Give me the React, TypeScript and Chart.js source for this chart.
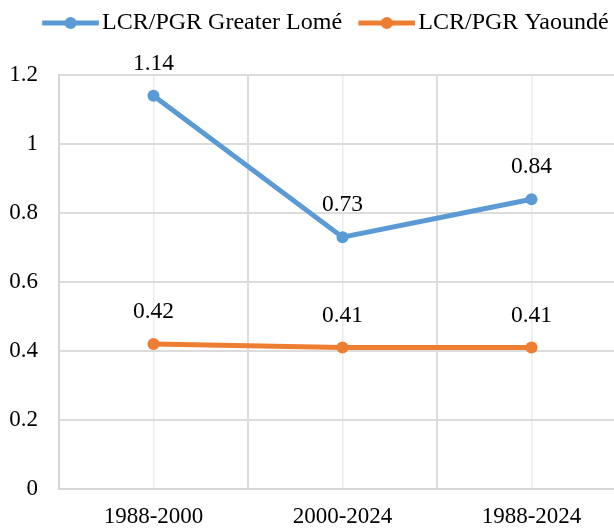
import React, { useEffect, useRef } from 'react';
import { Chart, registerables } from 'chart.js';

Chart.register(...registerables);

const categories = ['1988-2000', '2000-2024', '1988-2024'];
const lomeValues = [1.14, 0.73, 0.84];
const yaoundeValues = [0.42, 0.41, 0.41];
const seriesNames = ['LCR/PGR Greater Lomé', 'LCR/PGR Yaoundé'];
const yTickValues = [0, 0.2, 0.4, 0.6, 0.8, 1, 1.2];

const BLUE = '#5B9BD5';
const ORANGE = '#ED7D31';
const FONT = '"Liberation Serif", "Times New Roman", serif';

function makeLegendIcon(color: string) {
  const c = document.createElement('canvas');
  c.width = 76;
  c.height = 14;
  const ctx = c.getContext('2d')!;
  ctx.strokeStyle = color;
  ctx.lineWidth = 5;
  ctx.beginPath();
  ctx.moveTo(18.85, 7);
  ctx.lineTo(75.85, 7);
  ctx.stroke();
  ctx.fillStyle = color;
  ctx.beginPath();
  ctx.arc(47.35, 7, 6, 0, Math.PI * 2);
  ctx.fill();
  return c;
}

const valueLabels = {
  id: 'valueLabels',
  afterDatasetsDraw(chart: any) {
    const ctx = chart.ctx;
    ctx.save();
    ctx.font = `23.5px ${FONT}`;
    ctx.fillStyle = '#000';
    ctx.textAlign = 'center';
    ctx.textBaseline = 'middle';
    chart.data.datasets.forEach((ds: any, i: number) => {
      const meta = chart.getDatasetMeta(i);
      meta.data.forEach((pt: any, j: number) => {
        ctx.fillText(Number(ds.data[j]).toFixed(2), pt.x, pt.y - 32);
      });
    });
    ctx.restore();
  },
};

const legendSpacing = {
  id: 'legendSpacing',
  beforeInit(chart: any) {
    const legend = chart.legend;
    if (!legend) return;
    const fit = legend.fit;
    legend.fit = function () {
      fit.call(this);
      this.height = 70.6;
    };
  },
};

export default function App() {
  const ref = useRef<HTMLCanvasElement | null>(null);

  useEffect(() => {
    if (!ref.current) return;
    const icons = [makeLegendIcon(BLUE), makeLegendIcon(ORANGE)];
    const chart = new Chart(ref.current, {
      type: 'line',
      data: {
        labels: categories,
        datasets: [
          {
            label: seriesNames[0],
            data: lomeValues,
            borderColor: BLUE,
            backgroundColor: BLUE,
            borderWidth: 5,
            pointRadius: 6,
            pointBorderWidth: 0,
            pointBackgroundColor: BLUE,
            tension: 0,
          },
          {
            label: seriesNames[1],
            data: yaoundeValues,
            borderColor: ORANGE,
            backgroundColor: ORANGE,
            borderWidth: 5,
            pointRadius: 6,
            pointBorderWidth: 0,
            pointBackgroundColor: ORANGE,
            tension: 0,
          },
        ],
      },
      options: {
        responsive: false,
        animation: false,
        layout: { padding: { left: 9, top: 4.4, right: 0, bottom: 0 } },
        plugins: {
          legend: {
            position: 'top',
            align: 'center',
            labels: {
              usePointStyle: true,
              pointStyleWidth: 57.7,
              padding: 6.6,
              color: '#000',
              font: { family: FONT, size: 24 },
              generateLabels: (ch: any) => {
                const items = (Chart.defaults.plugins.legend.labels as any).generateLabels(ch);
                return items.map((it: any, i: number) => ({ ...it, pointStyle: icons[i] }));
              },
            },
          },
          tooltip: { enabled: false },
        },
        scales: {
          x: {
            type: 'category',
            offset: true,
            grid: { offset: true, color: '#dcdcdc', lineWidth: 2, drawTicks: false },
            border: { display: true, color: '#d6d6d6', width: 2 },
            ticks: {
              color: '#000',
              padding: 14.2,
              font: { family: FONT, size: 23 },
              maxRotation: 0,
            },
            afterFit: (scale: any) => {
              scale.height = 42;
            },
          },
          x2: {
            type: 'category',
            labels: categories,
            position: 'bottom',
            offset: true,
            min: categories[0],
            max: categories[categories.length - 1],
            grid: { offset: false, color: '#ececec', lineWidth: 1.5, drawTicks: false },
            border: { display: false },
            ticks: { display: false },
          },
          y: {
            type: 'linear',
            min: 0,
            max: 1.2,
            afterBuildTicks: (scale: any) => {
              scale.ticks = yTickValues.map((v) => ({ value: v }));
            },
            afterFit: (scale: any) => {
              scale.width = 50;
            },
            grid: { color: '#dcdcdc', lineWidth: 2, drawTicks: false },
            border: { display: true, color: '#d6d6d6', width: 2 },
            ticks: {
              color: '#000',
              padding: 21,
              font: { family: FONT, size: 23 },
              callback: (v: any) => String(Number(v)),
            },
          },
        },
      } as any,
      plugins: [valueLabels, legendSpacing],
    });
    return () => chart.destroy();
  }, []);

  return (
    <div
      style={{
        position: 'fixed',
        left: 0,
        top: 0,
        width: 614,
        height: 528,
        overflow: 'hidden',
        background: '#fff',
      }}
    >
      <canvas ref={ref} width={632} height={531} style={{ display: 'block', width: 632, height: 531 }} />
    </div>
  );
}
